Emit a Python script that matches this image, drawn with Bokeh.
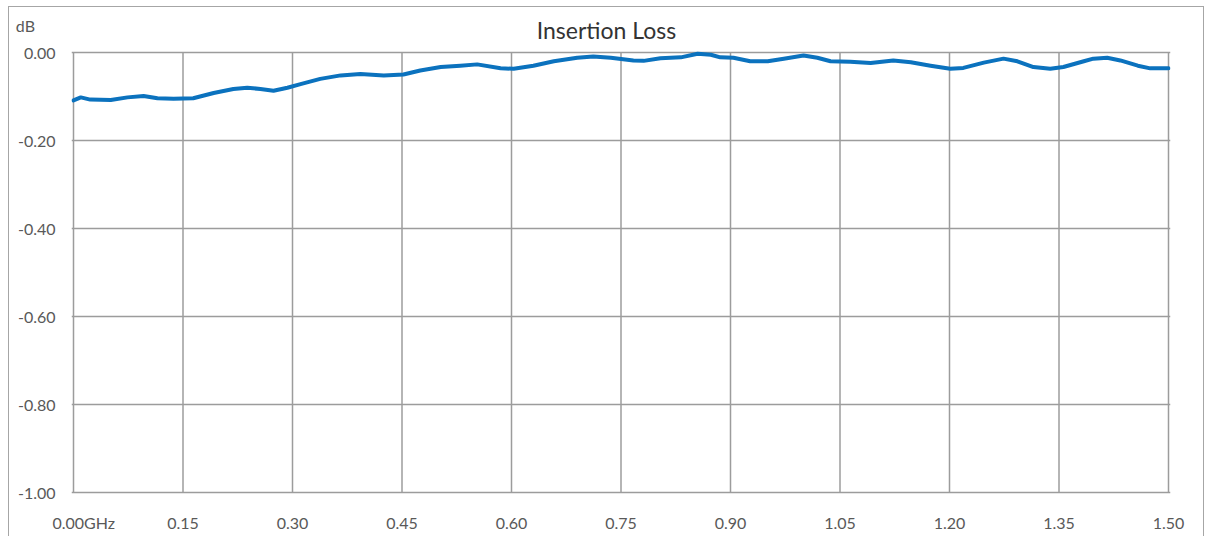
import json
from bokeh.plotting import figure
from bokeh.models import FixedTicker, CustomJSTickFormatter, Range1d
from bokeh.core.properties import value
from bokeh.embed import file_html
from bokeh.resources import INLINE

# Frequency (GHz) and insertion loss (dB)
freq_ghz = [0.000, 0.010, 0.023, 0.051, 0.074, 0.096, 0.115, 0.137, 0.164, 0.192,
            0.219, 0.238, 0.256, 0.274, 0.293, 0.311, 0.338, 0.366, 0.393, 0.425,
            0.452, 0.475, 0.503, 0.530, 0.553, 0.585, 0.603, 0.630, 0.658, 0.690,
            0.712, 0.736, 0.767, 0.781, 0.804, 0.832, 0.855, 0.873, 0.886, 0.904,
            0.927, 0.951, 0.973, 1.000, 1.019, 1.037, 1.064, 1.092, 1.123, 1.147,
            1.174, 1.201, 1.219, 1.247, 1.274, 1.293, 1.315, 1.338, 1.356, 1.384,
            1.397, 1.416, 1.434, 1.458, 1.475, 1.500]
loss_db = [-0.109, -0.102, -0.107, -0.108, -0.102, -0.099, -0.104, -0.105, -0.104, -0.092,
           -0.083, -0.080, -0.083, -0.087, -0.080, -0.072, -0.060, -0.052, -0.049, -0.052,
           -0.050, -0.041, -0.033, -0.030, -0.027, -0.036, -0.037, -0.030, -0.020, -0.012,
           -0.009, -0.012, -0.018, -0.019, -0.013, -0.011, -0.003, -0.005, -0.011, -0.012,
           -0.020, -0.020, -0.014, -0.007, -0.012, -0.020, -0.021, -0.024, -0.018, -0.022,
           -0.030, -0.037, -0.035, -0.023, -0.014, -0.020, -0.033, -0.037, -0.033, -0.020,
           -0.014, -0.012, -0.018, -0.030, -0.036, -0.036]

x_ticks = [0.0, 0.15, 0.30, 0.45, 0.60, 0.75, 0.90, 1.05, 1.20, 1.35, 1.50]
y_ticks = [0.0, -0.2, -0.4, -0.6, -0.8, -1.0]
x_min, x_max = 0.0, 1.5
y_min, y_max = -1.0, 0.0

title_text = "Insertion Loss"
y_unit = "dB"
x_unit = "GHz"

FONT = "Lato"
GRAY = "#595959"
GRID = "#9c9c9c"

PX_X = 1095 / 1.5      # pixels per GHz
PX_Y = 440 / 1.0       # pixels per dB
pad_x = 2 / PX_X
pad_y = 2 / PX_Y
top_room = 33 / PX_Y   # room above 0 dB for title and unit label
unit_y = 27 / PX_Y     # where the "dB" unit label sits

p = figure(width=1196, height=530, output_backend="svg", toolbar_location=None,
           x_range=Range1d(x_min - pad_x, x_max + pad_x),
           y_range=Range1d(y_min - pad_y, y_max + top_room),
           min_border_left=62, min_border_right=35, min_border_top=12, min_border_bottom=43)
p.styles = {"margin-left": "8px", "margin-top": "6px",
            "border-left": "1.5px solid #a6a6a6", "border-top": "1.5px solid #a6a6a6",
            "border-right": "1.5px solid #a6a6a6"}

p.background_fill_color = "white"
p.border_fill_color = "white"
p.outline_line_color = None

NB = "\u00a0"
p.xaxis.ticker = FixedTicker(ticks=x_ticks)
p.yaxis.ticker = FixedTicker(ticks=[unit_y] + y_ticks)
p.xaxis.formatter = CustomJSTickFormatter(code=(
    "if (Math.abs(tick) < 1e-9) return %s + tick.toFixed(2) + %s;"
    "return tick.toFixed(2);") % (json.dumps(NB * 5), json.dumps(x_unit)))
p.yaxis.formatter = CustomJSTickFormatter(code=(
    "if (tick > 0.01) return %s;"
    "return tick.toFixed(2);") % json.dumps(y_unit + NB * 5))

for ax in (p.xaxis, p.yaxis):
    ax.axis_line_color = None
    ax.major_tick_line_color = None
    ax.minor_tick_line_color = None
    ax.major_tick_out = 0
    ax.major_tick_in = 0
    ax.major_label_text_font = FONT
    ax.major_label_text_font_size = "16px"
    ax.major_label_text_color = GRAY
p.xaxis.major_label_standoff = 18
p.yaxis.major_label_standoff = 16

# horizontal grid lines from the y ticks
p.ygrid.ticker = FixedTicker(ticks=y_ticks)
p.ygrid.grid_line_color = GRID
p.ygrid.grid_line_width = 1.5
# vertical grid lines only over the value area
p.xgrid.visible = False
p.segment(x0=x_ticks, y0=[y_min] * len(x_ticks), x1=x_ticks, y1=[y_max] * len(x_ticks),
          line_color=GRID, line_width=1.5)

p.line(freq_ghz, loss_db, line_color="#0B72BE", line_width=4, line_join="round", line_cap="round")

p.text(x=[0.73], y=[22.7 / PX_Y], text=[title_text], text_align="center",
       text_baseline="alphabetic", text_font=value(FONT), text_font_size="23px",
       text_color="#333333")

open("out.html", "w").write(file_html(p, INLINE))
